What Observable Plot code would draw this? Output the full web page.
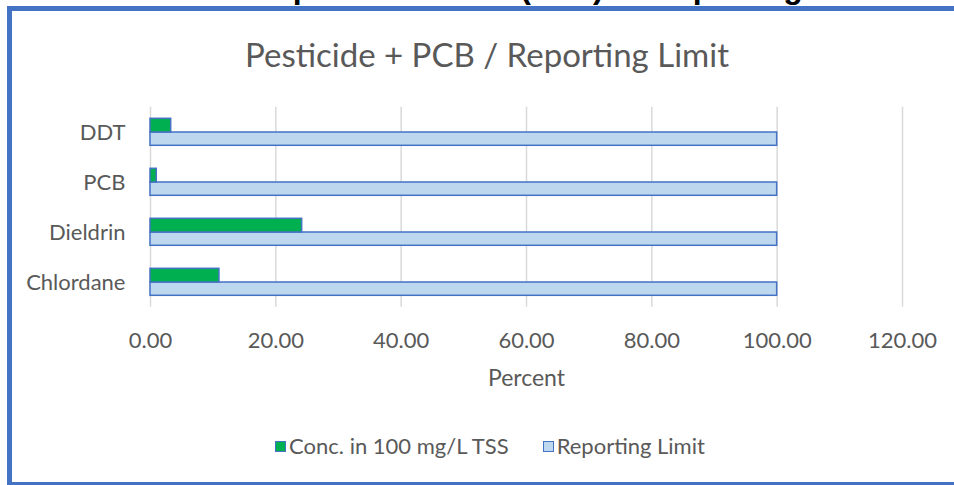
<!DOCTYPE html>
<html><head><meta charset="utf-8">
<script src="https://cdn.jsdelivr.net/npm/d3@7"></script>
<script src="https://cdn.jsdelivr.net/npm/@observablehq/plot@0.6"></script>
<style>
html,body{margin:0;padding:0;width:954px;height:485px;overflow:hidden;background:#fff}
body{font-family:Lato,sans-serif;position:relative}
#clip{position:absolute;left:0;top:0;width:954px;height:485px;overflow:hidden}
#toptitle{position:absolute;left:151px;top:-29px;font:bold 32px/32px "Liberation Sans",Arial,sans-serif;color:#000;white-space:nowrap}
#fl{position:absolute;left:7px;top:6px;width:5px;height:479px;background:#4472c4}
#ft{position:absolute;left:7px;top:6px;width:947px;height:5px;background:#4472c4}
#fb{position:absolute;left:7px;top:482px;width:947px;height:3px;background:#4472c4}
#title{position:absolute;left:0;top:38px;width:974px;text-align:center;font-size:33px;line-height:33px;color:#595959;white-space:nowrap}
#chart{position:absolute;left:0;top:90px}
#legend{position:absolute;left:0;top:434px;width:980px;display:flex;justify-content:center;gap:34px;font-size:22px;line-height:24px;color:#595959}
.item{display:flex;align-items:center;white-space:nowrap}
.sw{width:9px;height:9px;border:1.5px solid #4472c4;margin-right:3px}
</style></head><body>
<div id="clip">
<div id="toptitle">Total Suspended Solids (TSS) to Reporting Limit</div>
<div id="fl"></div><div id="ft"></div><div id="fb"></div>
<div id="title">Pesticide + PCB / Reporting Limit</div>
<div id="chart"></div>
<div id="legend"></div>
</div>
<script>
const categories = ["DDT", "PCB", "Dieldrin", "Chlordane"];
const concValues = [3.3, 1.0, 24.2, 11.0];
const limitValues = [100, 100, 100, 100];
const xTicks = [0, 20, 40, 60, 80, 100, 120];
const seriesNames = ["Conc. in 100 mg/L TSS", "Reporting Limit"];
const seriesColors = ["#00b050", "#bdd7ee"];

const data = categories.map((c, i) => ({cat: c, conc: concValues[i], limit: limitValues[i]}));

const chart = Plot.plot({
  width: 954, height: 310,
  marginTop: 16.7, marginBottom: 93.3, marginLeft: 150, marginRight: 52,
  x: {domain: [0, 120], ticks: xTicks},
  y: {domain: categories, padding: 0},
  style: {fontFamily: "Lato, sans-serif", fontSize: "22px", color: "#595959", background: "transparent", overflow: "visible"},
  marks: [
    Plot.gridX(xTicks, {stroke: "#d9d9d9", strokeOpacity: 1, strokeWidth: 1.5}),
    Plot.barX(data, {x: "limit", y: "cat", fill: seriesColors[1], stroke: "#4472c4", strokeWidth: 1.5, insetTop: 25, insetBottom: 11.7}),
    Plot.barX(data, {x: "conc", y: "cat", fill: seriesColors[0], stroke: "#4472c4", strokeWidth: 1.5, insetTop: 11.3, insetBottom: 25}),
    Plot.axisX({ticks: xTicks, tickSize: 0, tickPadding: 25, tickFormat: d => d.toFixed(2), label: null}),
    Plot.axisY({tickSize: 0, tickPadding: 25, label: null}),
    Plot.text(["Percent"], {frameAnchor: "bottom", dy: 71, lineAnchor: "middle", fontSize: 23, fill: "#595959"})
  ]
});
document.getElementById("chart").appendChild(chart);

const legend = document.getElementById("legend");
seriesNames.forEach((n, i) => {
  const it = document.createElement("div");
  it.className = "item";
  const sw = document.createElement("div");
  sw.className = "sw";
  sw.style.background = seriesColors[i];
  const t = document.createElement("span");
  t.textContent = n;
  it.appendChild(sw); it.appendChild(t);
  legend.appendChild(it);
});
</script>
</body></html>
